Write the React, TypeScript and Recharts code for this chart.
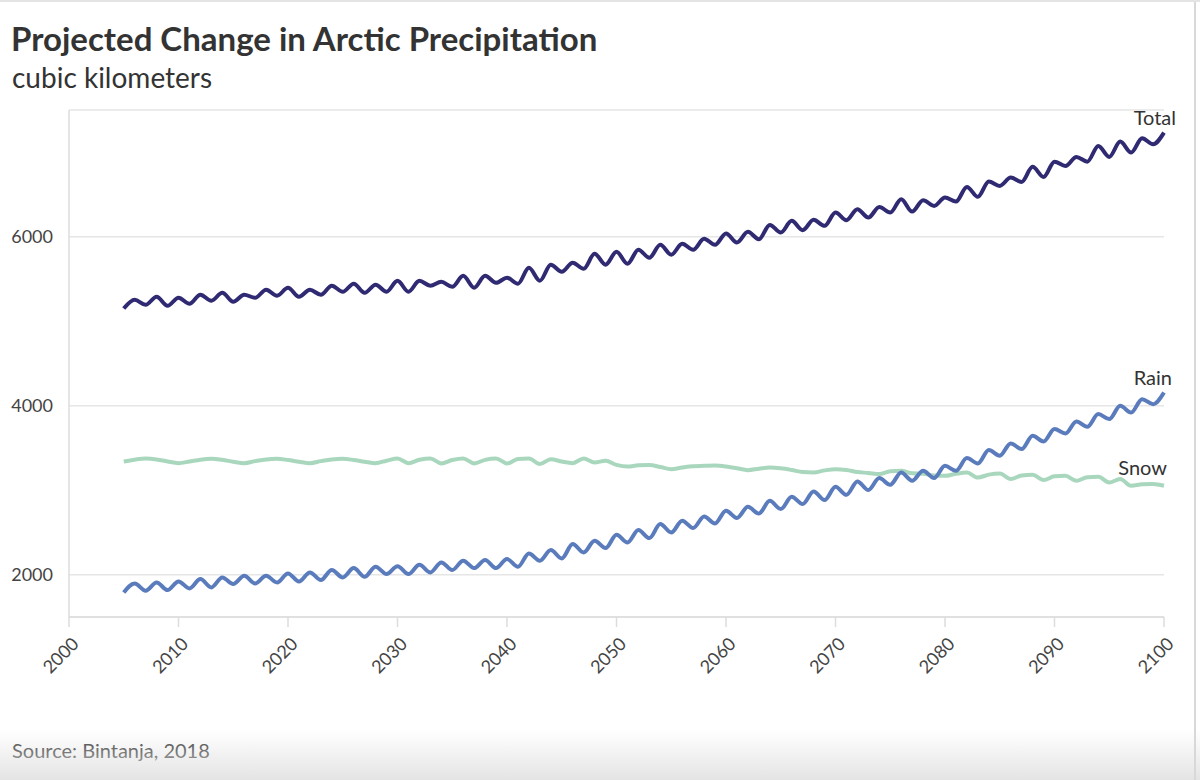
import { LineChart, Line, XAxis, YAxis, CartesianGrid } from 'recharts'

const YEARS = [
  2005, 2006, 2007, 2008, 2009, 2010, 2011, 2012, 2013, 2014,
  2015, 2016, 2017, 2018, 2019, 2020, 2021, 2022, 2023, 2024,
  2025, 2026, 2027, 2028, 2029, 2030, 2031, 2032, 2033, 2034,
  2035, 2036, 2037, 2038, 2039, 2040, 2041, 2042, 2043, 2044,
  2045, 2046, 2047, 2048, 2049, 2050, 2051, 2052, 2053, 2054,
  2055, 2056, 2057, 2058, 2059, 2060, 2061, 2062, 2063, 2064,
  2065, 2066, 2067, 2068, 2069, 2070, 2071, 2072, 2073, 2074,
  2075, 2076, 2077, 2078, 2079, 2080, 2081, 2082, 2083, 2084,
  2085, 2086, 2087, 2088, 2089, 2090, 2091, 2092, 2093, 2094,
  2095, 2096, 2097, 2098, 2099, 2100,
]

// cubic kilometers per year
const TOTAL = [
  5150, 5254, 5195, 5290, 5183, 5278, 5207, 5314, 5243, 5337,
  5231, 5314, 5278, 5373, 5302, 5396, 5290, 5373, 5314, 5420,
  5349, 5444, 5337, 5432, 5349, 5479, 5349, 5479, 5420, 5467,
  5408, 5538, 5396, 5538, 5455, 5515, 5444, 5633, 5479, 5669,
  5586, 5692, 5621, 5799, 5669, 5822, 5680, 5846, 5751, 5905,
  5787, 5917, 5846, 5976, 5904, 6038, 5931, 6058, 5971, 6140,
  6050, 6188, 6078, 6200, 6129, 6286, 6196, 6326, 6227, 6353,
  6286, 6444, 6298, 6433, 6365, 6464, 6416, 6590, 6472, 6653,
  6602, 6700, 6649, 6827, 6708, 6889, 6838, 6945, 6889, 7075,
  6945, 7126, 6996, 7166, 7095, 7232,
]

const RAIN = [
  1791, 1897, 1811, 1909, 1819, 1921, 1838, 1949, 1850, 1968,
  1890, 1988, 1897, 1988, 1909, 2016, 1921, 2028, 1937, 2056,
  1968, 2079, 1976, 2095, 2008, 2100, 2008, 2118, 2028, 2146,
  2056, 2166, 2079, 2174, 2079, 2186, 2095, 2252, 2166, 2292,
  2193, 2363, 2264, 2402, 2316, 2473, 2382, 2529, 2434, 2600,
  2500, 2639, 2552, 2690, 2607, 2757, 2671, 2804, 2725, 2875,
  2777, 2923, 2836, 2985, 2884, 3041, 2946, 3104, 3002, 3144,
  3065, 3210, 3112, 3230, 3144, 3289, 3230, 3381, 3317, 3475,
  3408, 3554, 3487, 3644, 3577, 3724, 3672, 3814, 3751, 3901,
  3842, 3999, 3920, 4078, 4019, 4157,
]

const SNOW = [
  3340, 3362, 3376, 3365, 3340, 3321, 3340, 3362, 3372, 3360,
  3338, 3321, 3345, 3365, 3372, 3358, 3338, 3321, 3345, 3365,
  3372, 3358, 3338, 3321, 3350, 3376, 3321, 3360, 3376, 3317,
  3358, 3376, 3317, 3360, 3376, 3317, 3370, 3376, 3310, 3368,
  3340, 3321, 3376, 3329, 3349, 3300, 3281, 3295, 3298, 3275,
  3250, 3270, 3285, 3289, 3292, 3281, 3260, 3238, 3255, 3269,
  3260, 3240, 3215, 3210, 3235, 3250, 3240, 3215, 3205, 3191,
  3225, 3230, 3200, 3195, 3175, 3171, 3195, 3210, 3150, 3185,
  3199, 3132, 3175, 3183, 3120, 3165, 3171, 3112, 3155, 3159,
  3092, 3132, 3053, 3070, 3073, 3053,
]

const X_TICKS = [2000, 2010, 2020, 2030, 2040, 2050, 2060, 2070, 2080, 2090, 2100]
const Y_TICKS = [2000, 4000, 6000]

const data = YEARS.map((year, i) => ({
  year,
  total: TOTAL[i],
  rain: RAIN[i],
  snow: SNOW[i],
}))

const FONT = 'Lato, "Open Sans", sans-serif'
const TEXT = '#333'

// series name drawn just above the last point of each line
function endLabel(name: string, dx: number, dy: number) {
  return (props: any) => {
    if (props.index !== data.length - 1) return null
    return (
      <text
        x={props.x + dx}
        y={props.y + dy}
        textAnchor="end"
        fontSize={20}
        fontFamily={FONT}
        fill={TEXT}
      >
        {name}
      </text>
    )
  }
}

function YearTick({ x, y, payload }: any) {
  const ex = x + 11
  const ey = y + 16
  return (
    <text
      x={ex}
      y={ey}
      transform={`rotate(-45, ${ex}, ${ey})`}
      textAnchor="end"
      fontSize={18}
      fontFamily={FONT}
      fill="#444"
    >
      {payload.value}
    </text>
  )
}

export default function App() {
  return (
    <div
      style={{
        position: 'fixed',
        left: 0,
        top: 0,
        width: 1200,
        height: 780,
        background: '#fff',
        fontFamily: FONT,
        color: TEXT,
        borderTop: '2px solid #e4e4e4',
        boxSizing: 'border-box',
        overflow: 'hidden',
      }}
    >
      <div style={{ position: 'absolute', left: 11, top: 14, fontSize: 33, fontWeight: 700, lineHeight: '44px' }}>
        Projected Change in Arctic Precipitation
      </div>
      <div style={{ position: 'absolute', left: 12, top: 57, fontSize: 28, fontWeight: 400, lineHeight: '36px' }}>
        cubic kilometers
      </div>

      <div style={{ position: 'absolute', left: 0, top: 0 }}>
        <LineChart
          width={1200}
          height={780}
          data={data}
          margin={{ top: 108, right: 36, bottom: 105, left: 0 }}
        >
          <CartesianGrid vertical={false} stroke="#e6e6e6" strokeWidth={1.5} />
          <XAxis
            dataKey="year"
            type="number"
            domain={[2000, 2100]}
            ticks={X_TICKS}
            height={60}
            stroke="#ddd"
            strokeWidth={1.5}
            tickSize={10}
            tick={<YearTick />}
          />
          <YAxis
            domain={[1500, 7500]}
            ticks={Y_TICKS}
            width={69}
            stroke="#ddd"
            strokeWidth={1.5}
            tickLine={false}
            tickSize={8}
            tickMargin={8}
            tick={{ fontSize: 18, fontFamily: FONT, fill: '#444' }}
          />
          <Line
            type="monotone"
            dataKey="total"
            stroke="#2f2a72"
            strokeWidth={4}
            dot={false}
            isAnimationActive={false}
            label={endLabel('Total', 12, -8)}
          />
          <Line
            type="monotone"
            dataKey="snow"
            stroke="#a9d7bd"
            strokeWidth={4}
            dot={false}
            isAnimationActive={false}
            label={endLabel('Snow', 3, -11)}
          />
          <Line
            type="monotone"
            dataKey="rain"
            stroke="#5a7cbd"
            strokeWidth={4}
            dot={false}
            isAnimationActive={false}
            label={endLabel('Rain', 8, -7)}
          />
        </LineChart>
      </div>

      <div style={{ position: 'absolute', left: 12, top: 735, fontSize: 20, lineHeight: '26px' }}>
        Source: Bintanja, 2018
      </div>
      <div
        style={{
          position: 'absolute',
          left: 0,
          bottom: 0,
          width: 1200,
          height: 50,
          background: 'linear-gradient(to bottom, rgba(235,235,235,0), rgba(225,225,225,0.9))',
          pointerEvents: 'none',
        }}
      />
      <div style={{ position: 'absolute', right: 4, top: 0, width: 2, height: 780, background: '#d8d8d8' }} />
    </div>
  )
}
